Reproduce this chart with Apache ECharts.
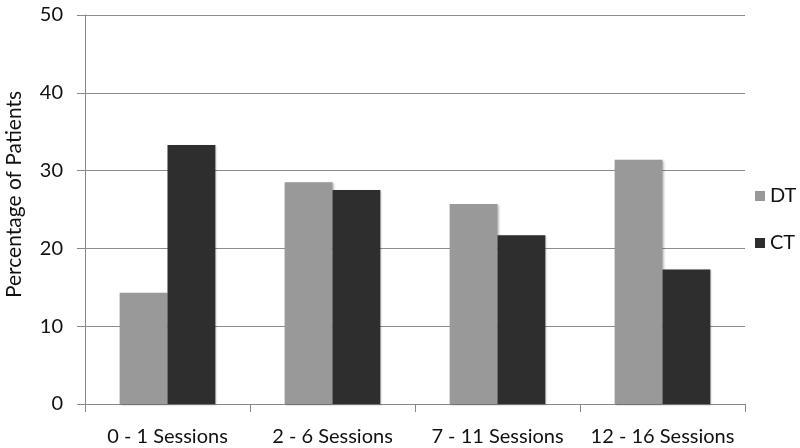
<!DOCTYPE html>
<html><head><meta charset="utf-8">
<script src="https://cdn.jsdelivr.net/npm/echarts@6/dist/echarts.min.js"></script>
<style>html,body{margin:0;padding:0;background:#fff}#c{width:800px;height:448px}</style>
</head><body><div id="c"></div>
<script>
const categories = ["0 - 1 Sessions", "2 - 6 Sessions", "7 - 11 Sessions", "12 - 16 Sessions"];
const dtValues = [14.3, 28.5, 25.7, 31.4];
const ctValues = [33.3, 27.5, 21.7, 17.3];
const seriesNames = ["DT", "CT"];
const yTicks = [0, 10, 20, 30, 40, 50];

const FONT = "Lato, 'Open Sans', sans-serif";
const chart = echarts.init(document.getElementById('c'), null, {renderer: 'canvas'});
chart.setOption({
  animation: false,
  backgroundColor: '#fff',
  grid: {left: 85, right: 55, top: 15, bottom: 44, containLabel: false, outerBoundsMode: 'none'},
  legend: {
    orient: 'vertical', left: 750, top: 181, itemGap: 27,
    itemWidth: 10, itemHeight: 10, icon: 'rect',
    textStyle: {fontFamily: FONT, fontSize: 20, color: '#111'},
    data: seriesNames
  },
  xAxis: {
    type: 'category', data: categories,
    axisLine: {lineStyle: {color: '#888', width: 1}},
    axisTick: {show: true, length: 8, lineStyle: {color: '#888'}},
    axisLabel: {fontFamily: FONT, fontSize: 20, color: '#111', margin: 23, interval: 0}
  },
  yAxis: {
    type: 'value', min: yTicks[0], max: yTicks[yTicks.length - 1], interval: 10,
    name: 'Percentage of Patients', nameLocation: 'middle', nameGap: 60, nameRotate: 90,
    nameTextStyle: {fontFamily: FONT, fontSize: 21, color: '#111', padding: [0, 0, 0, 30]},
    axisLine: {show: true, lineStyle: {color: '#888'}},
    axisTick: {show: true, length: 8, lineStyle: {color: '#888'}},
    axisLabel: {fontFamily: FONT, fontSize: 20, color: '#111', margin: 22},
    splitLine: {lineStyle: {color: '#8c8c8c', width: 1}}
  },
  series: [
    {name: seriesNames[0], type: 'bar', data: dtValues, barGap: '0%', barCategoryGap: '42%',
     itemStyle: {color: '#999999', shadowColor: 'rgba(0,0,0,0.25)', shadowBlur: 2, shadowOffsetX: 1, shadowOffsetY: 1}},
    {name: seriesNames[1], type: 'bar', data: ctValues, barGap: '0%', barCategoryGap: '42%',
     itemStyle: {color: '#2e2e2e', shadowColor: 'rgba(0,0,0,0.25)', shadowBlur: 2, shadowOffsetX: 1, shadowOffsetY: 1}}
  ]
});
</script></body></html>
